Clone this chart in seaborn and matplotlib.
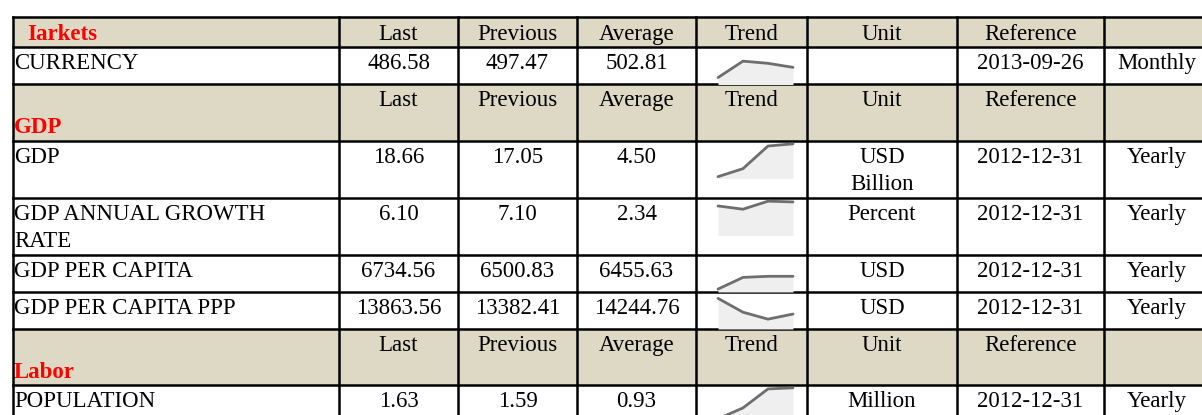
import matplotlib
matplotlib.use("Agg")
import matplotlib.pyplot as plt
from matplotlib.patches import Rectangle
import seaborn as sns
import pandas as pd

sns.set_theme(style="white")
plt.rcParams['font.family'] = ['Liberation Serif', 'DejaVu Serif']

# ---------------- data ----------------
columns = ["Last", "Previous", "Average", "Trend", "Unit", "Reference", ""]
sections = ["Iarkets", "GDP", "Labor"]
indicators = ["CURRENCY", "GDP", "GDP ANNUAL GROWTH\nRATE", "GDP PER CAPITA",
              "GDP PER CAPITA PPP", "POPULATION"]
last_vals = ["486.58", "18.66", "6.10", "6734.56", "13863.56", "1.63"]
prev_vals = ["497.47", "17.05", "7.10", "6500.83", "13382.41", "1.59"]
avg_vals = ["502.81", "4.50", "2.34", "6455.63", "14244.76", "0.93"]
units = ["", "USD\nBillion", "Percent", "USD", "USD", "Million"]
references = ["2013-09-26", "2012-12-31", "2012-12-31", "2012-12-31",
              "2012-12-31", "2012-12-31"]
frequencies = ["Monthly", "Yearly", "Yearly", "Yearly", "Yearly", "Yearly"]
# sparkline heights (fraction of the little chart box)
trend_currency = [0.19, 0.64, 0.58, 0.47]
trend_gdp = [0.05, 0.27, 0.89, 0.95]
trend_growth = [0.81, 0.72, 0.94, 0.92]
trend_gdp_pc = [0.08, 0.40, 0.43, 0.43]
trend_gdp_ppp = [0.84, 0.46, 0.27, 0.41]
trend_population = [0.10, 0.40, 0.92, 0.95]
trends = [trend_currency, trend_gdp, trend_growth, trend_gdp_pc,
          trend_gdp_ppp, trend_population]

# ---------------- layout ----------------
W, H = 1202, 415
fig = plt.figure(figsize=(W / 100, H / 100), dpi=100)
ax = fig.add_axes([0, 0, 1, 1])
ax.set_xlim(0, W)
ax.set_ylim(H, 0)
ax.axis("off")

col_edges = [13, 339, 458, 577, 696, 807, 957, 1104, 1210]
row_tops = [17.5, 47, 84, 141, 198, 254.5, 291.5, 329, 385, 422]
layout = [("h", 0), ("d", 0), ("h", 1), ("d", 1), ("d", 2), ("d", 3),
          ("d", 4), ("h", 2), ("d", 5)]

HEAD = "#DDD9C4"
FS = 16.5
BASE = 22.3
LINE = 27
RED = "#FF0000"


def put(x, top, text, ha="center", **kw):
    for k, line in enumerate(text.split("\n")):
        ax.text(x, top + BASE + LINE * k, line, ha=ha, va="baseline",
                fontsize=FS, color=kw.get("color", "black"),
                fontweight=kw.get("fontweight", "normal"))


centers = [(col_edges[i] + col_edges[i + 1]) / 2 for i in range(len(col_edges) - 1)]

for r, (kind, idx) in enumerate(layout):
    top, bot = row_tops[r], row_tops[r + 1]
    if kind == "h":
        ax.add_patch(Rectangle((col_edges[0], top), col_edges[-1] - col_edges[0],
                               bot - top, color=HEAD, zorder=0))
        for c, lab in enumerate(columns):
            if lab:
                put(centers[c + 1], top, lab)
        if idx == 0:
            put(27, top, sections[idx], ha="left", color=RED, fontweight="bold")
        else:
            put(14, top + LINE, sections[idx], ha="left", color=RED, fontweight="bold")
    else:
        put(14, top, indicators[idx], ha="left")
        put(centers[1], top, last_vals[idx])
        put(centers[2], top, prev_vals[idx])
        put(centers[3], top, avg_vals[idx])
        put(centers[5], top, units[idx])
        put(centers[6], top, references[idx])
        put(centers[7], top, frequencies[idx])
        # sparkline
        bx, bw, bh = 714, 81, 36.5
        iax = fig.add_axes([bx / W, 1 - (top + 1 + bh) / H, bw / W, bh / H])
        df = pd.DataFrame({"t": range(len(trends[idx])), "v": trends[idx]})
        iax.fill_between(df["t"], 0, df["v"], color="#EFEFEF", lw=0)
        sns.lineplot(data=df, x="t", y="v", ax=iax, color="#6E6E6E", lw=2.0)
        iax.set_xlim(-0.16, 3.08)
        iax.set_ylim(0, 1)
        iax.axis("off")

# grid lines
for y in row_tops:
    ax.plot([col_edges[0], col_edges[-1]], [y, y], color="black", lw=1.8,
            solid_capstyle="projecting", zorder=3)
for x in col_edges:
    ax.plot([x, x], [row_tops[0], row_tops[-1]], color="black", lw=1.8,
            solid_capstyle="projecting", zorder=3)

fig.savefig("out.png", dpi=100)
